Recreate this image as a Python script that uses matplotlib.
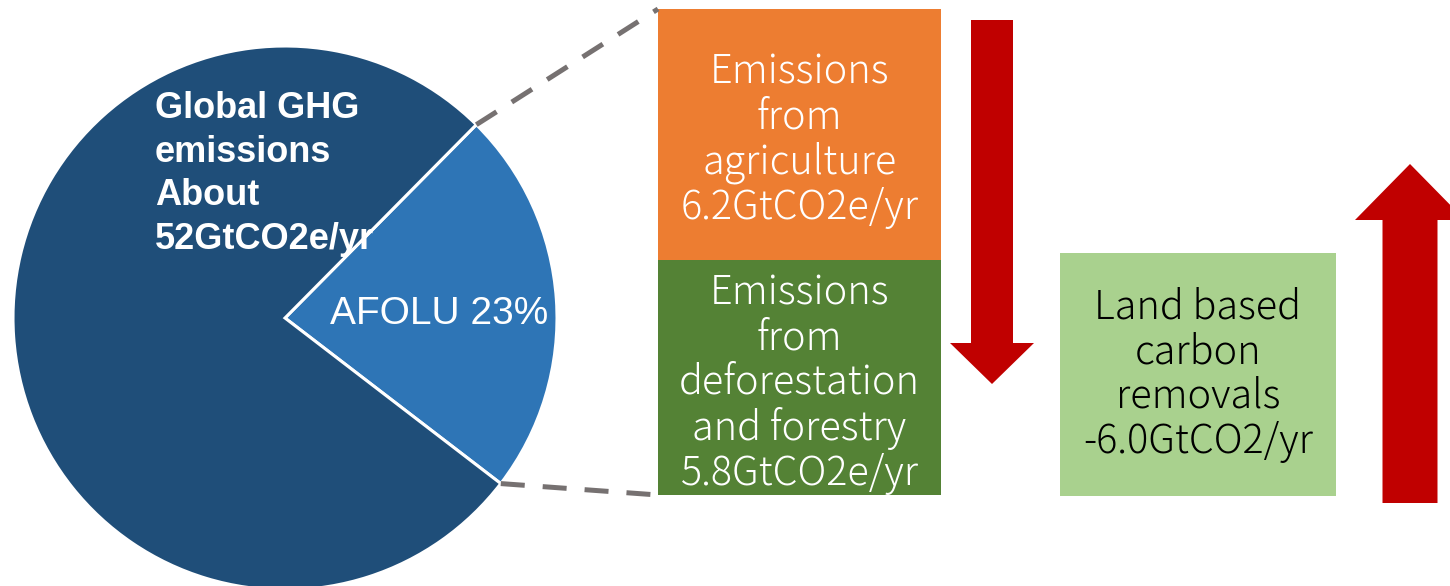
import numpy as np
import matplotlib.pyplot as plt

# AFOLU share of global GHG emissions and its breakdown (GtCO2e/yr)
shares = [23, 77]
share_colors = ['#2E75B6', '#1F4E79']
total_emissions = 52
emission_sources = ['agriculture', 'deforestation\nand forestry']
emission_values = [6.2, 5.8]
emission_colors = ['#ED7D31', '#548235']
removal_value = -6.0
removal_color = '#A9D18E'

W, H = 1450, 586
PX_PER_GT = 40.5
BOX_FONT = dict(family=['Noto Sans CJK JP', 'DejaVu Sans'], fontweight='light',
                fontsize=28.5, linespacing=1.09)

fig = plt.figure(figsize=(W / 100, H / 100), dpi=100)
ax = fig.add_axes([0, 0, 1, 1])

# pie, AFOLU wedge first so it sits on the right
center = (285, H - 318)
radius = 272
start = -37.5
wedges, _ = ax.pie(shares, colors=share_colors, startangle=start,
                   counterclock=True, center=center, radius=radius,
                   wedgeprops=dict(edgecolor='white', linewidth=2.2))
theta1, theta2 = wedges[0].theta1, wedges[0].theta2

ax.text(155, H - 174, f'Global GHG\nemissions\nAbout\n{total_emissions}GtCO2e/yr',
        color='white', fontsize=26, fontweight='bold', family='Liberation Sans',
        ha='left', va='center', linespacing=1.31, zorder=5)
ax.text(330, H - 314, f'AFOLU {shares[0]}%', color='white', fontsize=28,
        family='Liberation Sans', ha='left', va='center', zorder=5)

# stacked emission boxes
box_x, box_w = 658, 283
stack_bottom = H - 495
bottoms = [stack_bottom + emission_values[1] * PX_PER_GT, stack_bottom]
heights = [v * PX_PER_GT for v in emission_values]
ax.bar([box_x + box_w / 2] * 2, heights, width=box_w, bottom=bottoms,
       color=emission_colors, zorder=2)
for src, val, b, h in zip(emission_sources, emission_values, bottoms, heights):
    ax.text(box_x + box_w / 2, b + h / 2 - 6, f'Emissions\nfrom\n{src}\n{val:.1f}GtCO2e/yr',
            color='white', ha='center', va='center', zorder=5, **BOX_FONT)

# dashed connectors from wedge edges to the stack
for ang, y_end in [(theta2, bottoms[0] + heights[0]), (theta1, stack_bottom)]:
    x0 = center[0] + radius * np.cos(np.radians(ang))
    y0 = center[1] + radius * np.sin(np.radians(ang))
    ax.plot([x0, box_x], [y0, y_end], color='#767171', lw=3.6,
            dashes=(4.8, 3.6), solid_capstyle='butt', zorder=3)

# removal box
rem_x, rem_w = 1060, 276
rem_h = abs(removal_value) * PX_PER_GT
rem_bottom = H - 374.5 - rem_h / 2
ax.bar(rem_x + rem_w / 2, rem_h, width=rem_w, bottom=rem_bottom,
       color=removal_color, zorder=2)
ax.text(rem_x + rem_w / 2, rem_bottom + rem_h / 2,
        f'Land based\ncarbon\nremovals\n{removal_value:.1f}GtCO2/yr',
        color='black', ha='center', va='center', zorder=5, **BOX_FONT)

# direction arrows
ax.arrow(992, H - 20, 0, -(384 - 20), width=42, head_width=84, head_length=41,
         length_includes_head=True, color='#C00000', lw=0)
ax.arrow(1410, H - 503, 0, 503 - 164, width=55, head_width=110, head_length=56,
         length_includes_head=True, color='#C00000', lw=0)

ax.set_xlim(0, W)
ax.set_ylim(0, H)
ax.set_aspect('auto')
ax.axis('off')

fig.savefig('out.png', dpi=100)
